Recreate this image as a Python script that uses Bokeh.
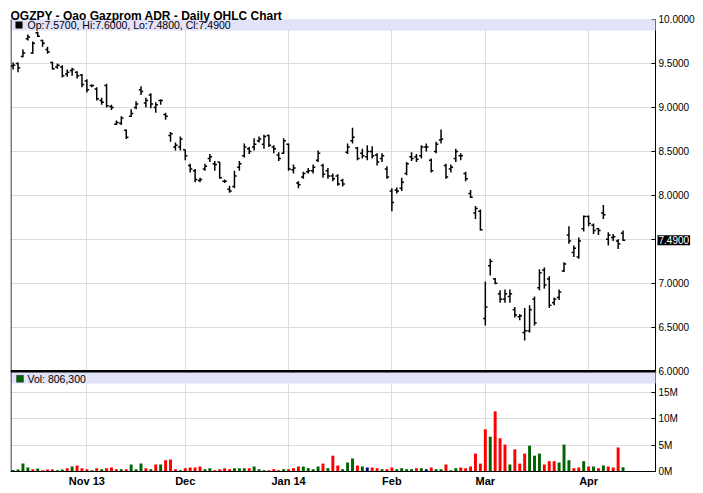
import pandas as pd
from bokeh.plotting import figure
from bokeh.models import Range1d, FixedTicker, BoxAnnotation, Label, ColumnDataSource
from bokeh.embed import file_html
from bokeh.resources import INLINE

TITLE = "OGZPY - Oao Gazprom ADR - Daily OHLC Chart"
START, END = "2013-10-11", "2014-04-10"
HOLIDAYS = ["2013-11-28", "2013-12-25", "2014-01-01", "2014-01-20", "2014-02-17"]
MONTH_LABELS = {"2013-11": "Nov 13", "2013-12": "Dec", "2014-01": "Jan 14",
                "2014-02": "Feb", "2014-03": "Mar", "2014-04": "Apr"}
PRICE_TICKS = [6.0, 6.5, 7.0, 7.5, 8.0, 8.5, 9.0, 9.5, 10.0]
VOL_TICKS = [0, 5, 10, 15]  # millions

opens = [9.47, 9.50, 9.58, 9.78, 9.62, 9.85, 9.76, 9.66, 9.51, 9.46,
         9.46, 9.38, 9.42, 9.40, 9.37, 9.30, 9.25, 9.21, 9.08, 9.25,
         9.01, 8.81, 8.82, 8.74, 8.90, 9.00, 9.20, 9.05, 9.14, 9.00,
         9.08, 8.92, 8.68, 8.55, 8.55, 8.52, 8.34, 8.28, 8.17, 8.30,
         8.42, 8.36, 8.38, 8.16, 8.07, 8.10, 8.32, 8.45, 8.53, 8.55,
         8.62, 8.58, 8.68, 8.55, 8.46, 8.48, 8.58, 8.29, 8.14, 8.21,
         8.27, 8.28, 8.40, 8.34, 8.28, 8.22, 8.22, 8.17, 8.49, 8.62,
         8.54, 8.48, 8.44, 8.50, 8.46, 8.42, 8.30, 8.05, 8.06, 8.08,
         8.25, 8.44, 8.44, 8.45, 8.55, 8.40, 8.50, 8.63, 8.34, 8.30,
         8.42, 8.45, 8.25, 8.02, 7.80, 7.82, 6.60, 7.20, 7.05, 6.88,
         6.82, 6.85, 6.70, 6.62, 6.44, 6.46, 6.82, 6.95, 7.15, 7.05,
         6.78, 6.84, 7.14, 7.55, 7.35, 7.30, 7.62, 7.76, 7.66, 7.62,
         7.80, 7.50, 7.52, 7.48, 7.57]
highs = [9.51, 9.51, 9.66, 9.83, 9.75, 9.86, 9.77, 9.69, 9.52, 9.50,
         9.48, 9.43, 9.45, 9.41, 9.38, 9.32, 9.26, 9.23, 9.11, 9.27,
         9.03, 8.85, 8.90, 8.75, 8.98, 9.07, 9.24, 9.11, 9.16, 9.06,
         9.09, 8.94, 8.72, 8.60, 8.67, 8.52, 8.36, 8.30, 8.20, 8.36,
         8.47, 8.39, 8.38, 8.18, 8.11, 8.28, 8.39, 8.59, 8.55, 8.65,
         8.67, 8.69, 8.69, 8.57, 8.49, 8.65, 8.59, 8.35, 8.16, 8.27,
         8.31, 8.35, 8.51, 8.36, 8.31, 8.25, 8.24, 8.19, 8.59, 8.77,
         8.55, 8.53, 8.57, 8.56, 8.48, 8.48, 8.33, 8.08, 8.09, 8.20,
         8.38, 8.49, 8.47, 8.57, 8.59, 8.42, 8.61, 8.75, 8.36, 8.35,
         8.53, 8.48, 8.27, 8.06, 7.88, 7.84, 7.02, 7.28, 7.06, 6.92,
         6.93, 6.93, 6.73, 6.65, 6.72, 6.75, 6.85, 7.16, 7.18, 7.08,
         6.84, 6.93, 7.24, 7.65, 7.43, 7.52, 7.77, 7.77, 7.68, 7.63,
         7.89, 7.58, 7.56, 7.50, 7.60]
lows = [9.43, 9.40, 9.57, 9.76, 9.61, 9.80, 9.69, 9.61, 9.43, 9.44,
        9.34, 9.35, 9.36, 9.33, 9.23, 9.17, 9.23, 9.08, 9.03, 9.00,
        8.97, 8.80, 8.80, 8.64, 8.89, 8.98, 9.14, 9.00, 8.99, 8.94,
        9.03, 8.86, 8.61, 8.51, 8.51, 8.40, 8.26, 8.15, 8.15, 8.28,
        8.38, 8.28, 8.19, 8.14, 8.03, 8.08, 8.28, 8.43, 8.47, 8.51,
        8.60, 8.53, 8.55, 8.48, 8.39, 8.47, 8.28, 8.25, 8.08, 8.19,
        8.25, 8.25, 8.38, 8.20, 8.19, 8.16, 8.11, 8.10, 8.47, 8.59,
        8.40, 8.42, 8.40, 8.42, 8.34, 8.38, 8.19, 7.82, 8.02, 8.05,
        8.23, 8.39, 8.38, 8.42, 8.50, 8.26, 8.48, 8.59, 8.19, 8.26,
        8.38, 8.40, 8.16, 7.97, 7.73, 7.60, 6.52, 7.09, 6.99, 6.78,
        6.78, 6.78, 6.61, 6.58, 6.35, 6.44, 6.52, 6.92, 6.94, 6.72,
        6.75, 6.81, 7.13, 7.45, 7.30, 7.28, 7.59, 7.65, 7.56, 7.55,
        7.73, 7.43, 7.48, 7.39, 7.48]
closes = [9.48, 9.45, 9.62, 9.80, 9.73, 9.81, 9.73, 9.63, 9.44, 9.48,
          9.36, 9.40, 9.43, 9.36, 9.26, 9.20, 9.25, 9.10, 9.06, 9.02,
          9.00, 8.83, 8.88, 8.66, 8.93, 9.04, 9.18, 9.08, 9.04, 9.03,
          9.08, 8.90, 8.70, 8.57, 8.64, 8.45, 8.30, 8.18, 8.18, 8.33,
          8.44, 8.35, 8.20, 8.16, 8.05, 8.22, 8.36, 8.55, 8.50, 8.58,
          8.64, 8.67, 8.57, 8.53, 8.42, 8.62, 8.30, 8.31, 8.12, 8.25,
          8.28, 8.32, 8.48, 8.24, 8.22, 8.19, 8.13, 8.13, 8.55, 8.66,
          8.42, 8.45, 8.50, 8.45, 8.38, 8.45, 8.21, 7.92, 8.05, 8.15,
          8.36, 8.42, 8.41, 8.55, 8.55, 8.28, 8.58, 8.64, 8.21, 8.32,
          8.50, 8.45, 8.19, 7.98, 7.85, 7.61, 6.73, 7.25, 7.00, 6.82,
          6.88, 6.88, 6.64, 6.63, 6.46, 6.70, 6.55, 7.12, 6.98, 6.75,
          6.82, 6.90, 7.22, 7.48, 7.40, 7.48, 7.76, 7.68, 7.60, 7.60,
          7.78, 7.55, 7.53, 7.45, 7.49]
volumes = [0.30, 0.38, 1.50, 0.76, 0.44, 0.57, 0.25, 0.38, 0.38, 0.25,
           0.38, 0.63, 0.95, 1.14, 0.63, 0.44, 0.25, 0.63, 0.44, 0.63,
           0.76, 0.44, 0.44, 0.44, 1.33, 0.44, 1.50, 0.63, 0.44, 1.33,
           1.33, 2.15, 2.28, 0.44, 0.25, 0.63, 0.76, 0.76, 0.95, 0.44,
           0.63, 0.25, 0.44, 0.63, 0.44, 0.63, 0.63, 0.63, 0.63, 0.95,
           0.44, 0.25, 0.25, 0.44, 0.25, 0.44, 0.44, 0.63, 0.95, 0.95,
           0.63, 0.44, 0.95, 1.50, 0.63, 3.00, 1.14, 0.44, 1.70,
           2.47, 1.14, 0.95, 0.76, 0.76, 0.63, 0.44, 0.44, 0.76, 0.44,
           0.63, 0.44, 0.44, 0.63, 0.63, 0.44, 0.76, 0.44, 0.44, 1.33,
           0.25, 0.63, 0.76, 0.63, 0.95, 3.40, 1.50, 8.00, 6.60, 11.40,
           6.30, 5.10, 1.33, 4.20, 1.50, 3.40, 4.90, 3.00, 3.40, 1.33,
           1.96, 1.96, 1.70, 5.10, 2.15, 0.63, 0.76, 1.96, 0.95, 0.95,
           0.63, 1.14, 0.95, 0.76, 4.56, 0.8063]
vol_dirs = ["g", "g", "g", "g", "r", "g", "r", "r", "r", "g",
            "g", "r", "g", "r", "r", "r", "g", "r", "g", "r",
            "r", "r", "g", "r", "g", "g", "g", "r", "g", "r",
            "g", "r", "r", "r", "g", "r", "r", "r", "r", "g",
            "g", "r", "r", "r", "r", "g", "g", "g", "r", "g",
            "g", "g", "r", "r", "r", "g", "r", "r", "r", "g",
            "g", "g", "g", "r", "g", "r", "r", "g", "g",
            "g", "r", "g", "n", "r", "r", "g", "r", "r", "g",
            "g", "g", "g", "r", "g", "n", "r", "g", "g", "r",
            "g", "g", "r", "r", "r", "r", "r", "r", "g", "r",
            "r", "r", "g", "r", "r", "r", "g", "g", "g", "r",
            "r", "r", "g", "g", "g", "r", "r", "g", "r", "g",
            "r", "g", "r", "r", "r", "g"]

# ---- styling / layout constants ----
FONT = "Liberation Sans"
UP, DOWN, FLAT = "#006400", "#ff0000", "#000080"
BAND = "#e2e2fa"
GRID = "#dcdcdc"
PX_PER_UNIT = 88.0          # pixels per 1.00 of price
VOL_BASE = 4.86             # price-axis value at the bottom of the volume pane
PRICE_PER_M = 0.06          # price-axis units per million shares
Y_TOP = 10.0 + 17 / PX_PER_UNIT      # room for the title above the chart
Y_BOTTOM = VOL_BASE - 19 / PX_PER_UNIT  # room for the date labels
TICK = 0.45                 # OHLC open/close tick length in bar units
X_START, AXIS_X, X_END = -0.53, 130.6, 138.73   # plot left edge, price-axis position, canvas right
ONE_PX_X = (X_END - X_START) / 685.0

dates = pd.bdate_range(START, END, freq="C", holidays=HOLIDAYS)
n = len(dates)
idx = list(range(n))

month_ticks, month_labels = [], {}
for i, d in enumerate(dates):
    k = d.strftime("%Y-%m")
    if k in MONTH_LABELS and MONTH_LABELS[k] not in month_labels.values():
        month_ticks.append(i)
        month_labels[i] = MONTH_LABELS[k]

cmap = {"g": UP, "r": DOWN, "n": FLAT}
src = ColumnDataSource(dict(
    x=idx, xl=[i - TICK for i in idx], xr=[i + TICK for i in idx],
    open=opens, high=highs, low=lows, close=closes,
    vol=volumes, vcolor=[cmap[c] for c in vol_dirs]))

p = figure(frame_width=685, frame_height=int(round((Y_TOP - Y_BOTTOM) * PX_PER_UNIT)),
           x_range=Range1d(X_START, X_END), y_range=Range1d(Y_BOTTOM, Y_TOP),
           output_backend="svg", toolbar_location=None, y_axis_location="right",
           min_border_left=10, min_border_top=2, min_border_right=0, min_border_bottom=0,
           outline_line_color=None, background_fill_color="white", border_fill_color="white")
p.extra_y_ranges = {"vol": Range1d((Y_BOTTOM - VOL_BASE) / PRICE_PER_M, (Y_TOP - VOL_BASE) / PRICE_PER_M)}

# grids
p.xgrid.grid_line_color = GRID
p.ygrid.grid_line_color = GRID

# x axis (drawn at the bottom of the volume pane)
p.xaxis.fixed_location = VOL_BASE
p.xaxis.ticker = FixedTicker(ticks=month_ticks)
p.xaxis.major_label_overrides = month_labels
p.xaxis.bounds = (X_START, AXIS_X)
p.xaxis.major_tick_out = 0
p.xaxis.major_tick_in = 0
p.xaxis.minor_tick_line_color = None
p.xaxis.major_label_standoff = 3
p.xaxis.axis_line_color = "black"
p.xaxis.major_label_text_font = FONT
p.xaxis.major_label_text_font_size = "11px"
p.xaxis.major_label_text_font_style = "bold"
p.xaxis.major_label_text_color = "black"

# right axis: price ticks + volume ticks mapped into the lower pane
vol_pos = [VOL_BASE + v * PRICE_PER_M for v in VOL_TICKS]
overrides = {t: ("%.4f" % t) for t in PRICE_TICKS}
overrides[7.5] = ""
for v, pos in zip(VOL_TICKS, vol_pos):
    overrides[pos] = "%dM" % v
p.yaxis.fixed_location = AXIS_X
p.yaxis.bounds = (VOL_BASE, 10.0)
p.yaxis.ticker = FixedTicker(ticks=PRICE_TICKS + vol_pos)
p.yaxis.major_label_overrides = overrides
p.yaxis.major_tick_in = 4
p.yaxis.major_tick_out = 0
p.yaxis.minor_tick_line_color = None
p.yaxis.major_label_standoff = 3
p.yaxis.axis_line_color = "black"
p.yaxis.major_tick_line_color = "black"
p.yaxis.major_label_text_font = FONT
p.yaxis.major_label_text_font_size = "10px"
p.yaxis.major_label_text_color = "black"

# blank the margins (right of the axis, above and below the panes)
for kw in (dict(left=AXIS_X), dict(bottom=10.0), dict(top=VOL_BASE)):
    p.add_layout(BoxAnnotation(fill_color="white", fill_alpha=1, line_color=None, level="underlay", **kw))

# OHLC bars
p.segment(x0="x", y0="low", x1="x", y1="high", source=src, line_color="black", line_width=1.5)
p.segment(x0="xl", y0="open", x1="x", y1="open", source=src, line_color="black", line_width=1.5)
p.segment(x0="x", y0="close", x1="xr", y1="close", source=src, line_color="black", line_width=1.5)

# volume bars
p.vbar(x="x", top="vol", bottom=0, width=0.6, source=src, fill_color="vcolor",
       line_color=None, y_range_name="vol")

# bands, separators, left border
p.add_layout(BoxAnnotation(bottom=9.875, top=10.0, right=AXIS_X, fill_color=BAND, fill_alpha=1, line_color=None))
p.add_layout(BoxAnnotation(bottom=5.86, top=6.0, right=AXIS_X, fill_color=BAND, fill_alpha=1, line_color=None))
p.add_layout(BoxAnnotation(bottom=5.986, top=6.014, right=AXIS_X, fill_color="black", fill_alpha=1, line_color=None))
p.add_layout(BoxAnnotation(left=X_START, right=X_START + ONE_PX_X, bottom=VOL_BASE, top=10.0,
                           fill_color="black", fill_alpha=1, line_color=None))

# legend swatches
p.add_layout(BoxAnnotation(left=5, right=12, top=9.977, bottom=9.898,
                           left_units="screen", right_units="screen",
                           fill_color="black", fill_alpha=1, line_color=None))
p.add_layout(BoxAnnotation(left=6, right=13, top=5.954, bottom=5.875,
                           left_units="screen", right_units="screen",
                           fill_color=UP, fill_alpha=1, line_color="black", line_width=1))

ohlc_txt = "Op:%.4f, Hi:%.4f, Lo:%.4f, Cl:%.4f" % (opens[-1], highs[-1], lows[-1], closes[-1])
p.add_layout(Label(x=17, y=9.937, x_units="screen", text=ohlc_txt,
                   text_font=FONT, text_font_size="10.5px", text_baseline="middle", text_color="black"))
vol_txt = "Vol: {:,}".format(int(round(volumes[-1] * 1e6)))
p.add_layout(Label(x=17, y=5.915, x_units="screen", text=vol_txt,
                   text_font=FONT, text_font_size="10.5px", text_baseline="middle", text_color="black"))

# title
p.add_layout(Label(x=0, y=10.045, x_units="screen", text=TITLE,
                   text_font=FONT, text_font_size="12px", text_font_style="bold",
                   text_baseline="alphabetic", text_color="black"))

# last price marker
p.add_layout(Label(x=AXIS_X, y=closes[-1], x_offset=2, text="%.4f" % closes[-1],
                   text_font=FONT, text_font_size="10px", text_baseline="middle",
                   text_color="white", background_fill_color="black", background_fill_alpha=1,
                   padding=1))

open("out.html", "w").write(file_html(p, INLINE))
